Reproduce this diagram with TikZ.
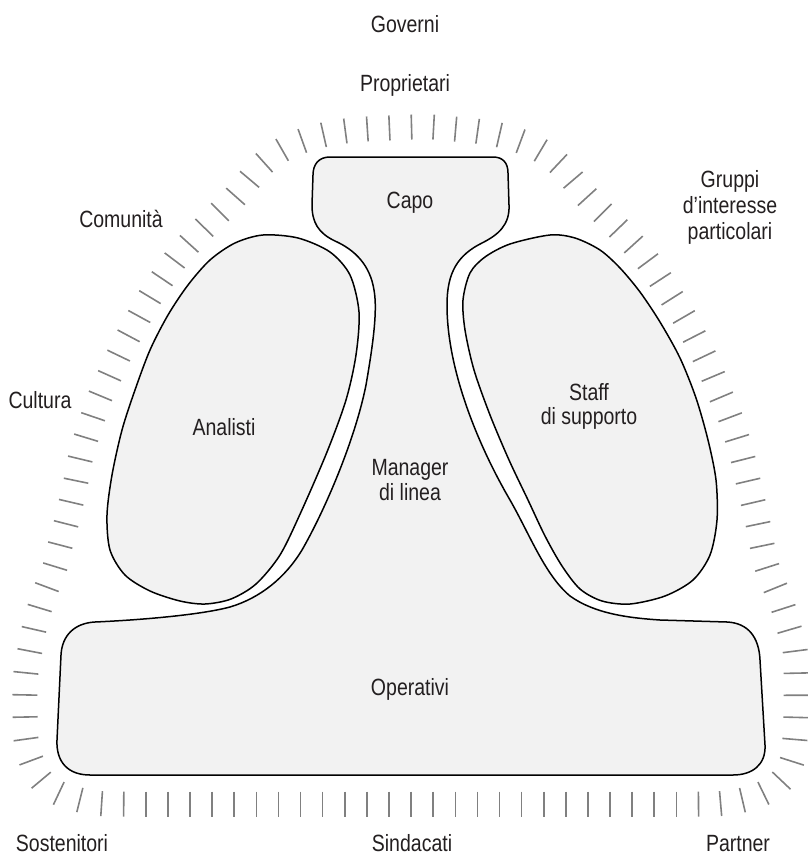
\documentclass[tikz,border=0pt]{standalone}
\usepackage{fontspec}
\setmainfont[FakeStretch=0.83]{Liberation Sans}
\usetikzlibrary{decorations.markings}
\definecolor{shapefill}{HTML}{F2F2F2}
\definecolor{tickgray}{HTML}{808080}
\definecolor{textc}{HTML}{231F20}
\tikzset{
  part/.style={draw=black, line width=1.5pt, fill=shapefill},
  lbl/.style={text=textc, inner sep=0pt, anchor=base},
  tickline/.style={draw=tickgray, line width=1.6pt},
}
\begin{document}
\begin{tikzpicture}[x=1pt, y=-1pt, font=\fontsize{23.5}{26}\selectfont]
\useasboundingbox (0,0) rectangle (807,856);

% environment ticks
\path[postaction={decorate}, decoration={markings,
  mark=between positions 0 and 0.996 step {(\pgfdecoratedpathlength+0pt)/110} with {\draw[tickline] (0pt,-12.5pt) -- (0pt,12.5pt);}}]
  plot[smooth cycle, tension=0.5] coordinates {
  (412,804) (389,804) (367,804) (345,804) (323,804) (300,804) (278,804) (256,804) (234,804) (212,804)
  (189,804) (167,804) (145,804) (123,804) (100,803.5) (80,800) (58,793) (41,780) (31,760) (26,739) (25,716) (25,694)
  (26,672) (30,650) (34,629) (40,607) (47,587) (55,567) (60,546) (66,524) (71,503) (76,481) (80,460)
  (86,438) (93,417) (100,397) (109,377) (118,357) (128,337) (139,317) (150,297) (162,279) (175,260)
  (189,244) (204,228) (220,212) (235,197) (249,180) (264,163) (282,150) (302,141) (323,135) (345,131)
  (367,129) (389,128) (412,127) (433,127) (454,129) (476,131) (499,135) (520,141) (540,150) (558,163)
  (573,180) (587,197) (602,212) (618,228) (633,244) (647,260) (660,279) (672,298) (684,317) (694,336)
  (704,356) (713,376) (721,396) (730,417) (737,438) (743,459) (748,481) (753,502) (758,524) (762,545)
  (767,567) (775,587) (783,607) (789,628) (795,650) (796,673) (796,694) (796,716) (795,738) (792,761)
  (782,780) (764,793) (743,800) (721,803.5) (700,804) (678,804) (655,804) (633,804) (611,804) (589,804)
  (567,804) (544,804) (522,804) (500,804) (478,804) (456,804) (434,804)};

% main body: Capo + Manager di linea + Operativi
\draw[part] (330,157) -- (493,157)
  .. controls (503,157) and (508,163) .. (508,173)
  -- (509,205)
  .. controls (510,225) and (498,235) .. (482,243)
  .. controls (458,255) and (447,272) .. (447,305)
  .. controls (447,370) and (478,445) .. (510,500)
  .. controls (530,535) and (545,575) .. (570,596)
  .. controls (595,614) and (630,618) .. (660,620)
  -- (727,622)
  .. controls (748,623) and (759,637) .. (760,660)
  -- (765,745)
  .. controls (766,765) and (752,775) .. (733,775)
  -- (90,775)
  .. controls (68,775) and (56,762) .. (57,740)
  -- (61,655)
  .. controls (62,635) and (75,623) .. (95,622)
  .. controls (140,620) and (200,615) .. (230,607)
  .. controls (260,598) and (285,578) .. (302,550)
  .. controls (325,510) and (355,440) .. (366,385)
  .. controls (372,350) and (378,312) .. (374,290)
  .. controls (370,265) and (355,250) .. (335,241)
  .. controls (318,233) and (312,222) .. (312,205)
  -- (313,175)
  .. controls (313,164) and (319,157) .. (330,157) -- cycle;

% Analisti
\draw[part] plot[smooth cycle, tension=0.5] coordinates {
  (263,235) (235,243) (210,260) (188,285) (168,315) (150,350) (135,390) (122,430) (112,475) (107,515)
  (110,550) (125,575) (150,591) (180,601) (205,604) (231,599) (256,584) (280,555) (301,512) (327,452)
  (346,400) (356,355) (359,312) (350,275) (330,252) (298,238)};

% Staff di supporto
\draw[part] plot[smooth cycle, tension=0.5] coordinates {
  (550,235) (575,238) (600,250) (620,268) (640,292) (660,322) (680,358) (696,398) (708,440) (716,480)
  (717,520) (710,555) (693,580) (665,596) (630,604) (602,601) (580,589) (562,566) (545,536) (528,500)
  (509,460) (490,415) (474,370) (465,330) (463,300) (470,273) (485,257) (510,244)};

% labels
\node[lbl] (governi) at (405,33) {Governi};
\node[lbl] (proprietari) at (405,92) {Proprietari};
\node[lbl] (capo) at (410,208) {Capo};
\node[lbl] (comunita) at (121,227) {Comunità};
\node[lbl] (gruppi1) at (730,187) {Gruppi};
\node[lbl] (gruppi2) at (730,213) {d’interesse};
\node[lbl] (gruppi3) at (730,239) {particolari};
\node[lbl] (cultura) at (40,408) {Cultura};
\node[lbl] (analisti) at (224,435) {Analisti};
\node[lbl] (staff1) at (589,400) {Staff};
\node[lbl] (staff2) at (589,424) {di supporto};
\node[lbl] (manager1) at (410,475) {Manager};
\node[lbl] (manager2) at (410,500) {di linea};
\node[lbl] (operativi) at (410,695) {Operativi};
\node[lbl] (sostenitori) at (62,851) {Sostenitori};
\node[lbl] (sindacati) at (412,851) {Sindacati};
\node[lbl] (partner) at (738,851) {Partner};
\end{tikzpicture}
\end{document}
